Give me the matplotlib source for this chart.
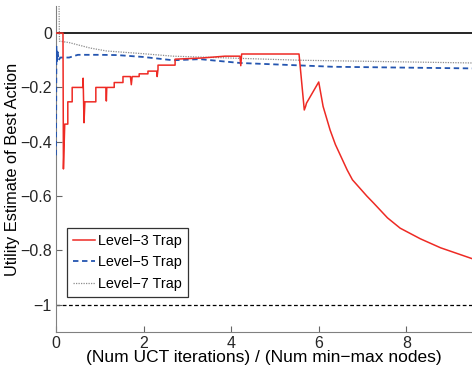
import numpy as np
import matplotlib.pyplot as plt

plt.rcParams['font.family'] = ['Liberation Sans', 'DejaVu Sans']

# Level-3 trap (red)
x3 = [0.0, 0.16, 0.17, 0.20, 0.20, 0.27, 0.27, 0.37, 0.37, 0.62, 0.62, 0.64, 0.66, 0.66,
      0.91, 0.91, 1.14, 1.15, 1.16, 1.33, 1.33, 1.53, 1.53, 1.70, 1.72, 1.74, 1.90, 1.90,
      2.10, 2.10, 2.30, 2.31, 2.33, 2.33, 2.72, 2.72, 3.30, 3.86, 4.20, 4.22, 4.24, 4.24,
      5.55, 5.67, 5.70, 5.72, 6.00, 6.10, 6.26, 6.38, 6.65, 6.77, 7.10, 7.25, 7.57, 7.86,
      8.32, 8.78, 9.50]
y3 = [0.0, 0.0, -0.50, -0.335, -0.335, -0.335, -0.253, -0.253, -0.20, -0.20, -0.166, -0.33, -0.253, -0.253,
      -0.253, -0.20, -0.20, -0.25, -0.20, -0.20, -0.182, -0.182, -0.16, -0.16, -0.19, -0.16, -0.16, -0.15,
      -0.15, -0.14, -0.14, -0.16, -0.133, -0.118, -0.118, -0.096, -0.092, -0.085, -0.085, -0.12, -0.077, -0.077,
      -0.077, -0.283, -0.27, -0.258, -0.18, -0.27, -0.357, -0.41, -0.504, -0.54, -0.60, -0.625, -0.68, -0.718,
      -0.757, -0.79, -0.83]

# Level-5 trap (blue dashed)
x5 = [0.0, 0.01, 0.02, 0.04, 0.06, 0.10, 0.30, 0.50, 1.00, 1.40, 2.00, 2.67, 3.29, 4.20, 6.33, 9.50]
y5 = [-0.45, -0.05, -0.11, -0.07, -0.10, -0.09, -0.09, -0.08, -0.08, -0.081, -0.088, -0.10, -0.096, -0.11, -0.124, -0.13]

# Level-7 trap (grey dotted)
x7 = [0.07, 0.08, 0.10, 0.30, 0.78, 1.16, 1.92, 2.67, 4.20, 5.58, 9.50]
y7 = [0.10, -0.03, -0.03, -0.035, -0.055, -0.066, -0.075, -0.085, -0.093, -0.10, -0.11]

fig = plt.figure(figsize=(4.72, 3.69), dpi=100)
ax = fig.add_axes([0.1186, 0.1003, 0.8814, 0.8837])

ax.axhline(0, color='black', lw=1.2, zorder=1)
ax.axhline(-1, color='black', lw=0.9, ls=(0, (3, 2)), zorder=1)

ax.plot(x3, y3, color='#ee2a24', lw=1.1, label='Level\u22123 Trap', zorder=4)
ax.plot(x5, y5, color='#2455b0', lw=1.3, ls=(0, (3, 2)), label='Level\u22125 Trap', zorder=3)
ax.plot(x7, y7, color='0.55', lw=0.9, ls=(0, (1, 1)), label='Level\u22127 Trap', zorder=2)

ax.set_xlim(0, 9.5)
ax.set_ylim(-1.1, 0.1)
ax.set_xticks([0, 2, 4, 6, 8])
ax.set_xticklabels(['0', '2', '4', '6', '8'])
ax.set_yticks([0, -0.2, -0.4, -0.6, -0.8, -1])
ax.set_yticklabels(['0', '\u22120.2', '\u22120.4', '\u22120.6', '\u22120.8', '\u22121'])
ax.tick_params(direction='in', length=4, labelsize=11.5, colors='0.4', labelcolor='0.15', pad=3)

for side in ['top', 'right']:
    ax.spines[side].set_visible(False)
for side in ['left', 'bottom']:
    ax.spines[side].set_color('0.5')

ax.set_xlabel('(Num UCT iterations) / (Num min\u2212max nodes)', fontsize=12.5, labelpad=-1)
ax.set_ylabel('Utility Estimate of Best Action', fontsize=11.8, labelpad=0)

leg = ax.legend(loc='lower left', bbox_to_anchor=(0.026, 0.107), fontsize=10.4, frameon=True,
                fancybox=False, handlelength=1.5, handletextpad=0.2, borderpad=0.45,
                labelspacing=0.5, borderaxespad=0)
leg.get_frame().set_edgecolor('black')
leg.get_frame().set_linewidth(0.9)

fig.savefig('out.png', dpi=100)
plt.close()
